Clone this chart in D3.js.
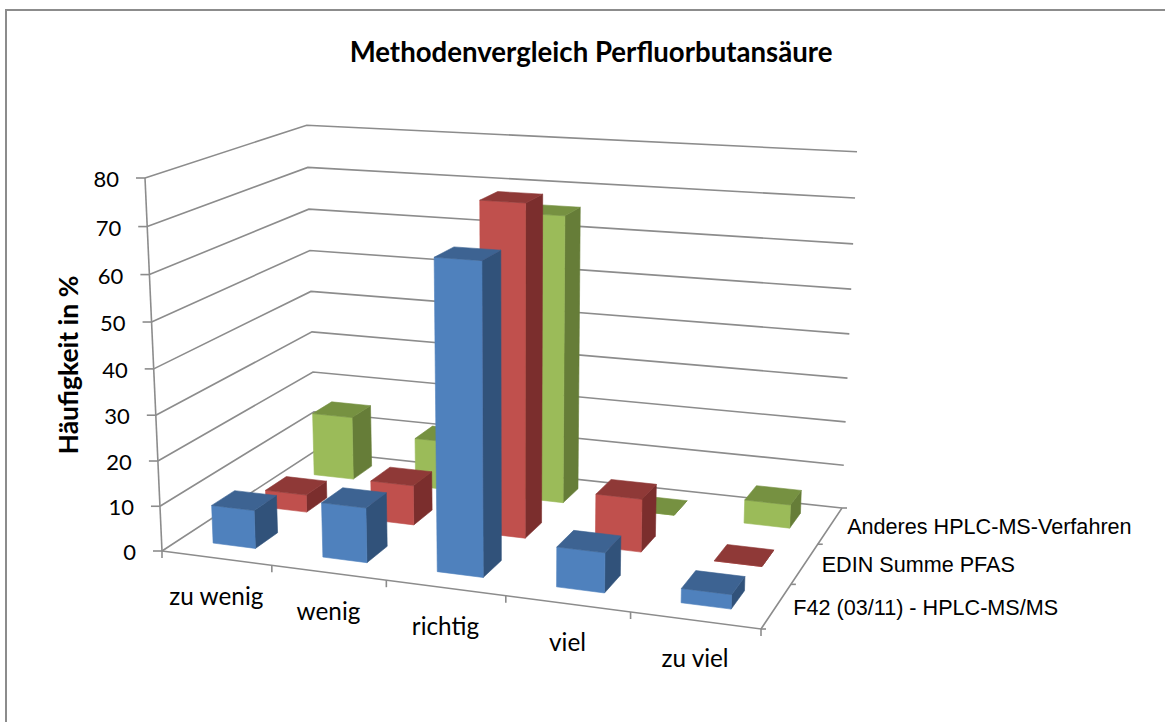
<!DOCTYPE html>
<html>
<head>
<meta charset="utf-8">
<script src="https://d3js.org/d3.v7.min.js"></script>
<style>
  html, body { margin: 0; padding: 0; background: #fff; }
  svg { display: block; }
  .grid { fill: none; stroke: #8c8c8c; stroke-width: 1.6px; }
  .lbl { font-family: Lato, sans-serif; fill: #000; }
  .ser { font-family: "Liberation Sans", Arial, sans-serif; fill: #000; font-size: 21.6px; }
</style>
</head>
<body>
<svg id="chart" width="1165" height="722"></svg>
<script>
// data
var categories = ["zu wenig", "wenig", "richtig", "viel", "zu viel"];
var seriesNames = ["F42 (03/11) - HPLC-MS/MS", "EDIN Summe PFAS", "Anderes HPLC-MS-Verfahren"];
var f42 = [8.5, 12, 66, 8.5, 3];
var edin = [4, 9, 73, 11.7, 0];
var anderes = [15, 11.5, 65.7, 0, 5.3];
var valueTicks = [0, 10, 20, 30, 40, 50, 60, 70, 80];

var seriesValues = [f42, edin, anderes];
var colors = [
  {front: "#4f81bd", top: "#3d6392", side: "#31527a"},
  {front: "#c0504d", top: "#8f3937", side: "#7b2e2d"},
  {front: "#9bbb59", top: "#769141", side: "#667d38"}
];

var svg = d3.select("#chart");

// frame, only top and left are in the picture
svg.append("path").attr("d", "M6,722V10H1165").attr("fill", "none")
  .attr("stroke", "#8c8c8c").attr("stroke-width", 2);

// corners of the plot box on screen, the perspective is fitted from them
var A = [162, 551], B = [761, 629], C = [842, 508], D = [315, 451], E = [145, 178], G = [857, 155];

var dx1 = B[0] - C[0], dx2 = D[0] - C[0], sx = A[0] - B[0] + C[0] - D[0];
var dy1 = B[1] - C[1], dy2 = D[1] - C[1], sy = A[1] - B[1] + C[1] - D[1];
var den = dx1 * dy2 - dx2 * dy1;
var wa = (sx * dy2 - dx2 * sy) / den;
var wb = (dx1 * sy - sx * dy1) / den;
var wc = ((C[0] - G[0]) * (1 + wa + wb) + E[0] - A[0]) / (G[0] - E[0]);

function project(x, y, z) {
  var w = 1 + wa * x + wb * y + wc * z;
  var px = A[0] + (B[0] * (1 + wa) - A[0]) * x + (D[0] * (1 + wb) - A[0]) * y + (E[0] * (1 + wc) - A[0]) * z;
  var py = A[1] + (B[1] * (1 + wa) - A[1]) * x + (D[1] * (1 + wb) - A[1]) * y + (E[1] * (1 + wc) - A[1]) * z;
  return [px / w, py / w];
}

var xScale = d3.scaleLinear().domain([0, categories.length]).range([0, 1]);
var yScale = d3.scaleLinear().domain([0, seriesNames.length]).range([0, 1]);
var zScale = d3.scaleLinear().domain([0, 80]).range([0, 1]);
var line = d3.line();

function path3d(g, pts, cls) {
  return g.append("path").attr("class", cls).attr("d", line(pts.map(function (p) { return project(p[0], p[1], p[2]); })));
}

function tick(g, p, dx, dy) {
  g.append("path").attr("class", "grid").attr("d", line([p, [p[0] + dx, p[1] + dy]]));
}

// walls and gridlines
var gridG = svg.append("g");
valueTicks.forEach(function (t) {
  var z = zScale(t);
  path3d(gridG, [[0, 0, z], [0, 1, z], [1, 1, z]], "grid");
  var p = project(0, 0, z);
  tick(gridG, p, -9, 0);
  svg.append("text").attr("class", "lbl").attr("x", p[0] - 26).attr("y", p[1] + 9)
    .attr("text-anchor", "end").style("font-size", "22px").text(t);
});
path3d(gridG, [[0, 0, 0], [0, 0, 1]], "grid");
path3d(gridG, [[0, 0, 0], [1, 0, 0], [1, 1, 0]], "grid");

// category ticks and labels
d3.range(categories.length + 1).forEach(function (i) {
  tick(gridG, project(xScale(i), 0, 0), 0, 7);
});
categories.forEach(function (c, i) {
  var p = project(xScale(i + 0.5), 0, 0);
  svg.append("text").attr("class", "lbl").attr("x", p[0]).attr("y", p[1] + 47)
    .attr("text-anchor", "middle").style("font-size", "24.3px").text(c);
});

// series ticks and labels
d3.range(seriesNames.length + 1).forEach(function (i) {
  tick(gridG, project(1, yScale(i), 0), 5, 0);
});
seriesNames.forEach(function (s, i) {
  var p = project(1, yScale(i + 0.5), 0);
  svg.append("text").attr("class", "ser").attr("x", p[0] + 17).attr("y", p[1] + 8.5).text(s);
});

// bars, back row first
var barW = 0.39, barD = 0.42, depthShift = 0.03;
var barsG = svg.append("g");
d3.range(seriesNames.length - 1, -1, -1).forEach(function (s) {
  categories.forEach(function (c, i) {
    var x0 = xScale(i + 0.5 - barW / 2), x1 = xScale(i + 0.5 + barW / 2);
    var y0 = yScale(s + 0.5 + depthShift - barD / 2), y1 = yScale(s + 0.5 + depthShift + barD / 2);
    var z = zScale(seriesValues[s][i]);
    var col = colors[s];
    var faces = [
      {fill: col.side, pts: [[x1, y0, 0], [x1, y1, 0], [x1, y1, z], [x1, y0, z]]},
      {fill: col.front, pts: [[x0, y0, 0], [x1, y0, 0], [x1, y0, z], [x0, y0, z]]},
      {fill: col.top, pts: [[x0, y0, z], [x1, y0, z], [x1, y1, z], [x0, y1, z]]}
    ];
    faces.forEach(function (f) {
      barsG.append("path")
        .attr("d", line(f.pts.map(function (p) { return project(p[0], p[1], p[2]); })) + "Z")
        .attr("fill", f.fill).attr("stroke", f.fill).attr("stroke-width", 0.6);
    });
  });
});

// title
svg.append("text").attr("class", "lbl").attr("x", 591).attr("y", 62).attr("text-anchor", "middle")
  .style("font-size", "27.6px").style("font-weight", "bold").text("Methodenvergleich Perfluorbutansäure");
svg.append("text").attr("class", "lbl").attr("transform", "translate(78,365) rotate(-90)").attr("text-anchor", "middle")
  .style("font-size", "26.5px").style("font-weight", "bold").text("Häufigkeit in %");
</script>
</body>
</html>
